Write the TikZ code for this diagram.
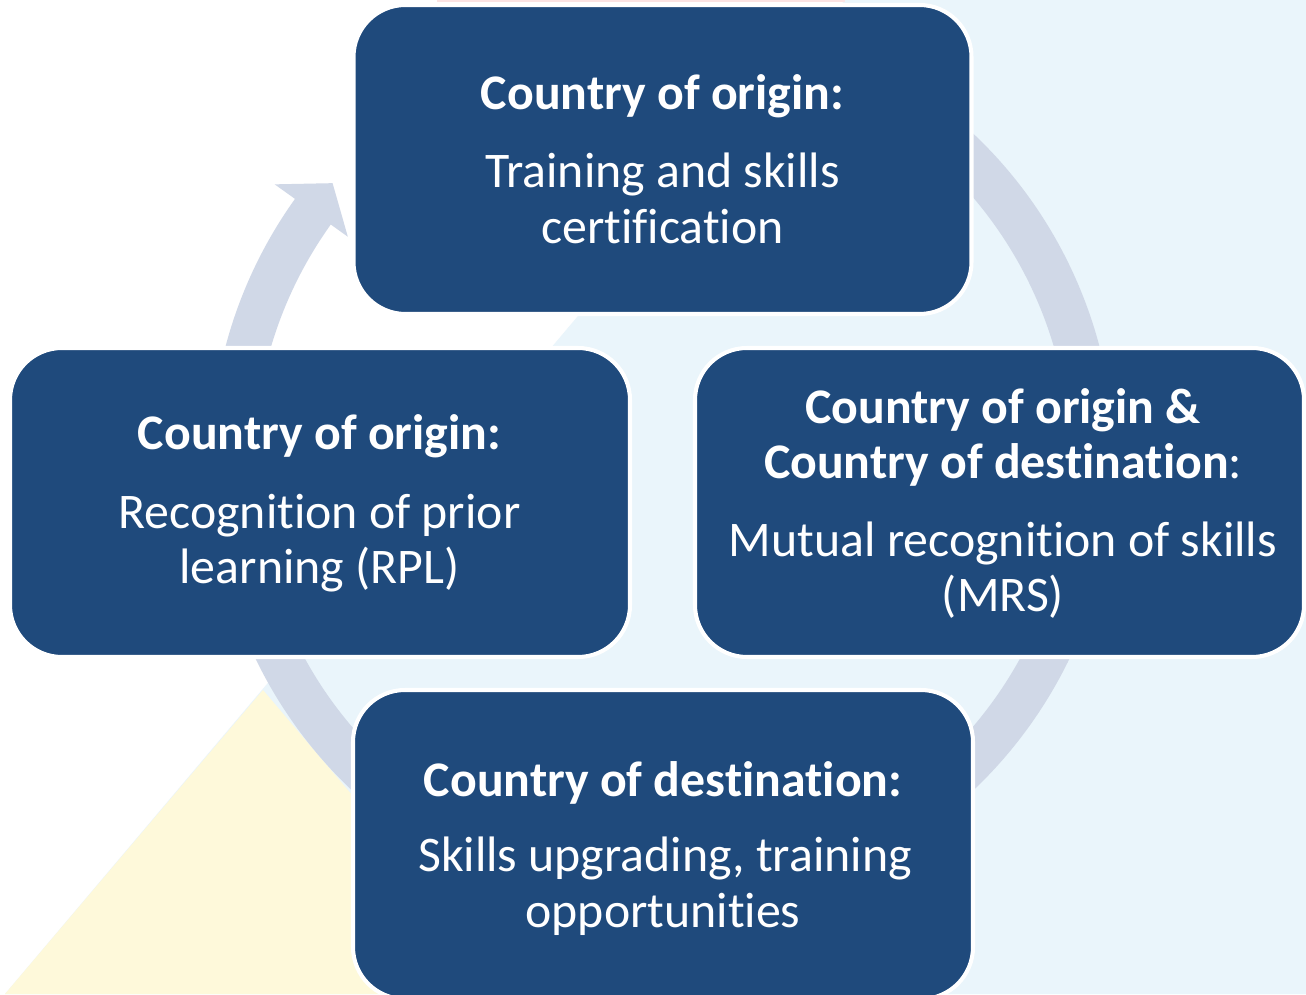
\documentclass[tikz,border=0pt]{standalone}
\usepackage{fontspec}
\setmainfont{Carlito}[Ligatures={NoCommon,NoContextual}]
\begin{document}
\begin{tikzpicture}[
  stagebox/.style={draw=white, line width=2.3pt, fill=boxblue, rounded corners=1.04cm,
                   inner sep=0pt, minimum height=6.18cm},
  headtxt/.style={anchor=base, text=white, font=\fontsize{28.35pt}{30pt}\selectfont\bfseries},
  bodytxt/.style={anchor=base, text=white, font=\fontsize{28.35pt}{30pt}\selectfont},
]
\definecolor{boxblue}{HTML}{1F4A7C}
\definecolor{ringgray}{HTML}{D0D8E7}
\definecolor{paleblue}{HTML}{EAF5FB}
\definecolor{paleyellow}{HTML}{FEF9DA}
\definecolor{palepink}{HTML}{FBE3E3}

\useasboundingbox (0,0) rectangle (26.12,19.88);
\clip (0,0) rectangle (26.12,19.88);

% background panels
\fill[white] (0,0) rectangle (26.12,19.88);
\fill[paleblue] (16.9,19.88) -- (26.12,19.88) -- (26.12,0) -- (0.1,0) -- cycle;
\fill[paleyellow] (0.1,0) -- (5.26,6.08) -- (10.42,0) -- cycle;
\fill[palepink] (8.74,19.83) rectangle (16.9,19.88);

% circular arrow running clockwise round the four stages
\begin{scope}[shift={(13.25,10.64)}]
  \fill[ringgray] (60:9.04) arc[start angle=60, end angle=-215.6, radius=9.04]
    -- (144.4:9.54) -- (139.8:8.64) -- (144.4:7.74) -- (144.4:8.16)
    arc[start angle=144.4, end angle=420, radius=8.16] -- cycle;
\end{scope}

% the four stages
\node[stagebox, minimum width=12.36cm] (origin) at (13.25,16.69) {};
\node[stagebox, minimum width=12.40cm] (rpl) at (6.40,9.83) {};
\node[stagebox, minimum width=12.18cm] (mrs) at (19.99,9.83) {};
\node[stagebox, minimum width=12.40cm] (dest) at (13.26,2.99) {};

% texts
\node[headtxt] (originhead) at (13.25,17.68) {Country of origin:};
\node[bodytxt] (originbodya) at (13.25,16.12) {Training and skills};
\node[bodytxt] (originbodyb) at (13.25,15.00) {certification};

\node[headtxt] (rplhead) at (6.39,10.88) {Country of origin:};
\node[bodytxt] (rplbodya) at (6.39,9.30) {Recognition of prior};
\node[bodytxt] (rplbodyb) at (6.39,8.20) {learning (RPL)};

\node[headtxt] (mrsheada) at (20.06,11.41) {Country of origin \&};
\node[headtxt] (mrsheadb) at (20.06,10.31) {Country of destination\mdseries:};
\node[bodytxt] (mrsbodya) at (20.06,8.74) {Mutual recognition of skills};
\node[bodytxt] (mrsbodyb) at (20.06,7.64) {(MRS)};

\node[headtxt] (desthead) at (13.26,3.96) {Country of destination:};
\node[bodytxt] (destbodya) at (13.30,2.46) {Skills upgrading, training};
\node[bodytxt] (destbodyb) at (13.26,1.34) {opportunities};
\end{tikzpicture}
\end{document}
